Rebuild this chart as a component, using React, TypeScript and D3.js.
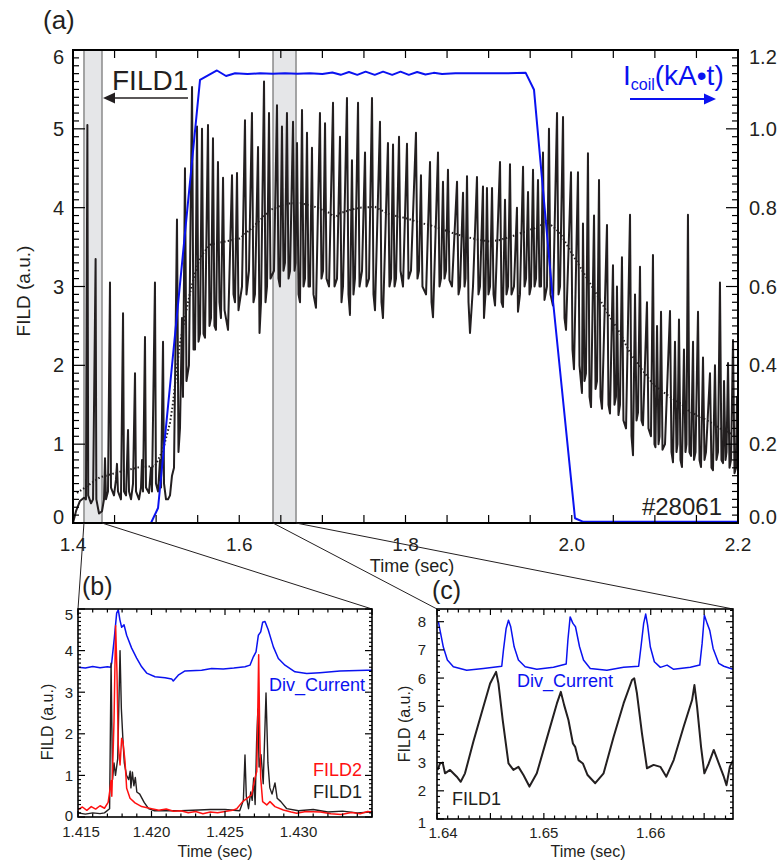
import React from 'react';
import * as d3 from 'd3';

const FONT = '"Liberation Sans", Arial, Helvetica, sans-serif';
const BLUE = '#0a12f0';
const RED = '#ff1010';
const INK = '#231f20';

// ---------- Panel (a): FILD1 signal (time [s], a.u.) ----------
const fild1A: [number, number][] = [
  [1.4000,0.00],[1.4036,0.15],[1.4084,0.28],[1.4132,0.32],[1.4156,0.30],[1.4173,5.05],[1.4183,0.35],[1.4217,0.25],[1.4241,0.30],[1.4272,3.35],[1.4281,0.30],[1.4313,0.12],[1.4349,0.15],[1.4373,0.30],[1.4385,0.82],[1.4397,0.30],[1.4421,0.40],[1.4445,3.05],[1.4457,0.45],[1.4493,0.35],[1.4517,0.55],[1.4529,0.75],[1.4541,0.40],[1.4577,0.30],[1.4602,2.66],[1.4614,0.40],[1.4638,0.35],[1.4662,1.18],[1.4674,0.40],[1.4698,0.30],[1.4722,0.50],[1.4746,1.90],[1.4758,0.40],[1.4794,0.30],[1.4818,0.45],[1.4830,0.80],[1.4842,0.40],[1.4866,2.36],[1.4878,0.45],[1.4914,0.38],[1.4938,0.70],[1.4950,0.40],[1.4986,3.05],[1.4998,0.50],[1.5023,0.40],[1.5047,0.80],[1.5059,0.45],[1.5083,2.30],[1.5095,0.50],[1.5119,0.30],[1.5143,0.30],[1.5167,0.35],[1.5191,0.60],[1.5215,0.70],[1.5251,3.85],[1.5269,0.90],[1.5287,1.20],[1.5311,2.60],[1.5323,1.60],[1.5347,4.50],[1.5365,1.80],[1.5395,2.00],[1.5432,5.53],[1.5450,2.20],[1.5468,2.20],[1.5492,5.03],[1.5510,2.30],[1.5528,2.40],[1.5552,5.00],[1.5570,2.40],[1.5588,2.35],[1.5624,5.05],[1.5642,2.50],[1.5660,2.60],[1.5684,4.88],[1.5702,2.50],[1.5720,2.45],[1.5744,4.58],[1.5762,2.80],[1.5780,2.60],[1.5805,4.38],[1.5823,2.70],[1.5865,2.45],[1.5913,4.41],[1.5931,2.90],[1.5949,2.80],[1.5973,4.44],[1.5991,2.70],[1.6033,3.00],[1.6069,5.11],[1.6087,2.90],[1.6117,3.20],[1.6153,5.20],[1.6171,2.80],[1.6189,2.90],[1.6226,4.77],[1.6244,2.41],[1.6262,2.80],[1.6298,5.60],[1.6316,2.80],[1.6334,3.00],[1.6358,5.20],[1.6376,3.10],[1.6418,3.20],[1.6454,5.30],[1.6472,3.10],[1.6490,3.00],[1.6514,5.03],[1.6532,3.20],[1.6550,3.30],[1.6574,5.20],[1.6593,3.10],[1.6611,3.20],[1.6647,5.09],[1.6665,3.20],[1.6677,3.30],[1.6695,4.82],[1.6713,2.90],[1.6731,2.80],[1.6755,5.24],[1.6773,3.00],[1.6791,3.10],[1.6815,4.95],[1.6833,3.00],[1.6851,3.00],[1.6875,4.76],[1.6893,2.90],[1.6923,2.73],[1.6971,5.20],[1.6989,3.10],[1.7008,3.20],[1.7032,5.07],[1.7050,3.10],[1.7080,3.00],[1.7128,5.33],[1.7146,3.00],[1.7176,3.10],[1.7212,4.90],[1.7230,2.80],[1.7248,3.00],[1.7296,5.39],[1.7314,2.90],[1.7332,2.64],[1.7356,4.60],[1.7374,2.90],[1.7392,3.10],[1.7429,5.33],[1.7447,3.00],[1.7477,3.20],[1.7513,4.70],[1.7531,3.00],[1.7561,3.10],[1.7597,5.39],[1.7615,2.90],[1.7633,2.70],[1.7693,5.09],[1.7711,2.80],[1.7729,2.60],[1.7789,4.82],[1.7807,3.00],[1.7826,3.10],[1.7850,4.80],[1.7868,3.00],[1.7886,3.10],[1.7922,4.90],[1.7940,3.20],[1.7970,3.00],[1.8018,4.81],[1.8036,3.10],[1.8066,3.20],[1.8126,4.95],[1.8144,3.10],[1.8162,3.20],[1.8186,4.41],[1.8204,3.00],[1.8247,2.90],[1.8295,4.58],[1.8313,2.80],[1.8331,2.61],[1.8391,4.70],[1.8409,3.00],[1.8427,3.10],[1.8451,4.33],[1.8469,3.10],[1.8487,3.20],[1.8511,4.48],[1.8529,3.08],[1.8559,3.00],[1.8620,4.33],[1.8638,2.90],[1.8656,3.00],[1.8692,4.19],[1.8710,3.00],[1.8722,3.10],[1.8740,4.40],[1.8758,2.80],[1.8776,2.41],[1.8812,3.00],[1.8860,4.39],[1.8878,2.90],[1.8896,3.00],[1.8932,4.27],[1.8944,2.60],[1.8962,2.90],[1.8980,4.25],[1.8998,2.90],[1.9017,3.00],[1.9041,4.25],[1.9059,2.90],[1.9077,2.76],[1.9137,4.58],[1.9155,2.80],[1.9173,2.74],[1.9197,4.10],[1.9215,2.90],[1.9233,3.00],[1.9257,4.55],[1.9275,2.90],[1.9305,3.00],[1.9341,4.00],[1.9353,2.68],[1.9377,2.90],[1.9414,4.52],[1.9432,3.00],[1.9450,3.10],[1.9474,4.20],[1.9492,2.90],[1.9510,3.00],[1.9534,4.48],[1.9552,3.00],[1.9570,3.10],[1.9594,4.35],[1.9612,3.00],[1.9630,3.00],[1.9654,4.70],[1.9672,2.83],[1.9702,3.00],[1.9726,5.00],[1.9744,2.90],[1.9774,2.76],[1.9823,5.20],[1.9841,2.90],[1.9859,3.00],[1.9895,5.15],[1.9913,2.60],[1.9931,2.45],[1.9991,4.45],[2.0009,2.20],[2.0027,1.95],[2.0075,4.45],[2.0093,2.00],[2.0123,1.65],[2.0135,3.80],[2.0153,1.80],[2.0171,1.90],[2.0195,4.69],[2.0214,1.60],[2.0232,1.47],[2.0268,3.90],[2.0286,1.70],[2.0304,1.80],[2.0328,4.35],[2.0346,1.60],[2.0364,1.45],[2.0424,3.78],[2.0442,1.50],[2.0460,1.39],[2.0496,3.27],[2.0514,1.50],[2.0532,1.60],[2.0544,3.00],[2.0562,1.37],[2.0580,1.50],[2.0604,3.37],[2.0622,1.30],[2.0653,1.20],[2.0701,3.91],[2.0719,1.10],[2.0737,0.86],[2.0761,2.90],[2.0779,1.30],[2.0797,1.40],[2.0821,3.25],[2.0839,1.30],[2.0857,1.24],[2.0905,2.80],[2.0923,1.20],[2.0953,1.10],[2.0977,3.40],[2.0995,1.00],[2.1007,0.96],[2.1026,2.50],[2.1044,1.00],[2.1056,1.10],[2.1074,2.68],[2.1092,0.93],[2.1122,1.00],[2.1182,2.69],[2.1200,0.90],[2.1218,0.77],[2.1242,2.30],[2.1260,0.90],[2.1272,1.00],[2.1290,2.58],[2.1308,0.80],[2.1326,0.71],[2.1350,2.20],[2.1368,0.90],[2.1380,1.00],[2.1398,3.91],[2.1416,0.90],[2.1435,0.85],[2.1459,2.30],[2.1471,0.80],[2.1489,0.90],[2.1519,2.68],[2.1537,0.80],[2.1555,0.71],[2.1579,2.10],[2.1597,0.80],[2.1615,0.90],[2.1663,1.90],[2.1681,0.70],[2.1699,0.67],[2.1723,2.00],[2.1741,0.80],[2.1759,0.90],[2.1783,3.05],[2.1801,0.80],[2.1820,0.76],[2.1832,1.80],[2.1850,0.80],[2.1862,0.90],[2.1880,2.03],[2.1898,0.70],[2.1916,0.80],[2.1940,2.32],[2.1958,0.63],[2.1976,0.70],[2.1988,1.60],[2.2000,1.00],
];

// smoothed FILD1 (dotted)
const fild1ASmooth: [number, number][] = [
  [1.4048,0.38],[1.4144,0.45],[1.4325,0.58],[1.4565,0.65],[1.4806,0.71],[1.4986,0.72],[1.5083,0.93],[1.5167,1.27],[1.5203,1.52],[1.5251,1.98],[1.5287,2.28],[1.5347,2.61],[1.5408,2.92],[1.5468,3.17],[1.5528,3.37],[1.5648,3.53],[1.5829,3.57],[1.6009,3.61],[1.6129,3.72],[1.6250,3.84],[1.6370,3.97],[1.6550,4.05],[1.6731,4.06],[1.6911,4.01],[1.7092,3.93],[1.7152,3.87],[1.7212,3.93],[1.7332,3.97],[1.7453,4.00],[1.7633,4.01],[1.7814,3.91],[1.7994,3.87],[1.8174,3.81],[1.8355,3.76],[1.8535,3.69],[1.8716,3.63],[1.8896,3.59],[1.9017,3.57],[1.9137,3.59],[1.9317,3.65],[1.9498,3.72],[1.9618,3.76],[1.9678,3.84],[1.9774,3.76],[1.9859,3.68],[1.9979,3.46],[2.0099,3.25],[2.0220,3.04],[2.0340,2.83],[2.0460,2.61],[2.0580,2.41],[2.0701,2.16],[2.0821,1.98],[2.0941,1.81],[2.1062,1.69],[2.1182,1.60],[2.1302,1.52],[2.1422,1.41],[2.1543,1.35],[2.1663,1.28],[2.1783,1.20],[2.1904,1.14],[2.1988,1.10],
];

// coil current (kA·t), right axis
const icoil: [number, number][] = [
  [1.4000,0],[1.4938,0],[1.5023,0.038],[1.5528,1.124],[1.5732,1.148],[1.5841,1.134],[1.5950,1.141],[1.6100,1.139],[1.6250,1.141],[1.6400,1.140],[1.6550,1.141],[1.6700,1.140],[1.6850,1.141],[1.7000,1.139],[1.7120,1.143],[1.7220,1.137],[1.7320,1.144],[1.7420,1.137],[1.7520,1.145],[1.7630,1.137],[1.7730,1.145],[1.7840,1.137],[1.7940,1.145],[1.8040,1.137],[1.8140,1.144],[1.8240,1.138],[1.8340,1.142],[1.8440,1.139],[1.8600,1.141],[1.8800,1.141],[1.9000,1.141],[1.9200,1.141],[1.9446,1.142],[1.9546,1.099],[1.9776,0.56],[2.0039,0.012],[2.0139,0.003],[2.2000,0.003],
];

const zoomBands: [number, number][] = [[1.4132, 1.4349], [1.6406, 1.6683]];
const aLeftTicks = [0, 1, 2, 3, 4, 5, 6];
const aRightTicks = ['0.0', '0.2', '0.4', '0.6', '0.8', '1.0', '1.2'];
const aXTicks = ['1.4', '1.6', '1.8', '2.0', '2.2'];

// ---------- Panel (b) ----------
const divCurB: [number, number][] = [
  [1.4150,3.60],[1.4155,3.58],[1.4160,3.62],[1.4165,3.59],[1.4170,3.61],[1.41722,3.60],[1.41729,3.70],[1.41747,4.30],[1.41763,4.90],[1.41774,4.98],[1.41785,4.74],[1.41797,4.56],[1.41813,4.62],[1.41831,4.37],[1.41865,4.06],[1.41899,3.82],[1.41933,3.61],[1.41967,3.46],[1.42024,3.37],[1.42092,3.35],[1.42137,3.32],[1.42148,3.27],[1.42182,3.41],[1.42228,3.51],[1.42341,3.53],[1.42409,3.57],[1.42488,3.56],[1.42560,3.58],[1.42636,3.61],[1.42670,3.65],[1.42693,3.85],[1.42711,3.97],[1.42727,4.37],[1.42743,4.45],[1.42756,4.68],[1.42772,4.70],[1.42794,4.50],[1.42829,4.09],[1.42863,3.81],[1.42908,3.65],[1.42976,3.49],[1.43056,3.45],[1.43146,3.47],[1.43282,3.51],[1.43464,3.53],[1.43500,3.53],
];
const fild2B: [number, number][] = [
  [1.4150,0.18],[1.4153,0.24],[1.4156,0.16],[1.4159,0.25],[1.4162,0.19],[1.4165,0.27],[1.4168,0.21],[1.41705,0.35],[1.41715,0.60],[1.41725,0.88],[1.41730,0.50],[1.41745,2.30],[1.41756,4.60],[1.41765,3.50],[1.41774,1.73],[1.41786,1.25],[1.41797,1.89],[1.41806,1.81],[1.41820,1.33],[1.41831,0.69],[1.41854,0.45],[1.41888,0.34],[1.41933,0.25],[1.42001,0.20],[1.4205,0.16],[1.4210,0.19],[1.4215,0.14],[1.4220,0.15],[1.4225,0.10],[1.4230,0.13],[1.4235,0.08],[1.4240,0.12],[1.4245,0.10],[1.4250,0.13],[1.4255,0.16],[1.4258,0.20],[1.42620,0.37],[1.42681,0.53],[1.42704,0.94],[1.42716,1.09],[1.42722,2.29],[1.42729,3.90],[1.42736,2.05],[1.42743,0.93],[1.42756,0.37],[1.42784,0.29],[1.42806,0.37],[1.42840,0.25],[1.42897,0.17],[1.42950,0.12],[1.42988,0.09],[1.4305,0.13],[1.4315,0.12],[1.4322,0.08],[1.4329,0.06],[1.4336,0.11],[1.4342,0.08],[1.4347,0.13],[1.4350,0.12],
];
const fild1B: [number, number][] = [
  [1.4150,0.10],[1.4155,0.07],[1.4160,0.10],[1.4165,0.08],[1.4168,0.10],[1.41715,0.20],[1.41725,3.70],[1.41735,0.90],[1.41745,1.30],[1.41755,1.00],[1.41770,1.40],[1.41786,4.00],[1.41795,2.60],[1.41805,1.90],[1.41815,1.30],[1.41830,1.00],[1.41845,0.90],[1.41855,1.10],[1.41860,0.70],[1.41870,1.08],[1.41880,0.75],[1.41890,0.95],[1.41900,0.60],[1.41920,0.55],[1.41950,0.35],[1.41980,0.20],[1.4202,0.15],[1.4220,0.15],[1.4240,0.18],[1.4250,0.18],[1.4260,0.15],[1.42625,0.40],[1.42636,1.49],[1.42645,0.50],[1.42660,0.20],[1.42675,0.60],[1.42685,0.40],[1.42695,0.94],[1.42705,0.30],[1.42715,1.80],[1.42724,2.60],[1.42732,1.20],[1.42745,1.50],[1.42760,0.80],[1.42779,2.98],[1.42792,1.30],[1.42805,0.70],[1.42820,0.55],[1.42840,0.82],[1.42855,0.45],[1.42880,0.37],[1.42920,0.20],[1.4300,0.15],[1.4310,0.18],[1.4320,0.12],[1.4330,0.14],[1.4340,0.10],[1.4350,0.12],
];
const bXTicks = ['1.415', '1.420', '1.425', '1.430'];
const bYTicks = [0, 1, 2, 3, 4, 5];

// ---------- Panel (c) ----------
const divCurC: [number, number][] = [
  [1.64013,8.00],[1.64028,7.70],[1.64059,7.10],[1.64097,6.64],[1.64153,6.40],[1.64278,6.28],[1.64434,6.34],[1.64606,6.42],[1.64622,7.00],[1.64647,7.76],[1.64669,8.05],[1.64690,7.82],[1.64722,7.11],[1.64762,6.64],[1.64825,6.40],[1.64934,6.31],[1.65090,6.38],[1.65209,6.50],[1.65225,7.35],[1.65246,8.17],[1.65272,7.94],[1.65296,7.82],[1.65334,7.11],[1.65371,6.64],[1.65434,6.34],[1.65590,6.28],[1.65746,6.38],[1.65887,6.42],[1.65909,7.11],[1.65934,7.94],[1.65953,8.27],[1.65971,7.88],[1.65996,7.11],[1.66034,6.58],[1.66090,6.38],[1.66153,6.46],[1.66215,6.31],[1.66371,6.38],[1.66459,6.46],[1.66481,7.23],[1.66502,8.23],[1.66528,7.94],[1.66552,7.70],[1.66584,7.05],[1.66637,6.52],[1.66684,6.42],[1.66770,6.31],
];
const fild1C: [number, number][] = [
  [1.64006,2.74],[1.64028,2.97],[1.64053,3.00],[1.64075,2.62],[1.64122,2.74],[1.64185,2.50],[1.64222,2.32],[1.64262,2.62],[1.64340,3.74],[1.64434,4.98],[1.64497,5.81],[1.64553,6.22],[1.64575,5.81],[1.64615,4.51],[1.64669,2.97],[1.64715,2.74],[1.64762,2.85],[1.64809,2.56],[1.64865,2.15],[1.64934,2.62],[1.65028,3.86],[1.65122,5.10],[1.65159,5.51],[1.65190,5.04],[1.65230,4.51],[1.65272,3.68],[1.65293,3.56],[1.65324,3.09],[1.65365,2.97],[1.65409,2.56],[1.65481,2.27],[1.65559,2.62],[1.65653,3.92],[1.65746,5.10],[1.65825,5.93],[1.65846,5.99],[1.65871,5.46],[1.65918,4.04],[1.65965,2.80],[1.66027,2.92],[1.66090,2.85],[1.66146,2.50],[1.66215,3.09],[1.66308,4.27],[1.66387,5.22],[1.66409,5.75],[1.66434,4.98],[1.66471,3.56],[1.66502,2.62],[1.66543,2.97],[1.66590,3.45],[1.66637,2.97],[1.66684,2.50],[1.66709,2.20],[1.66740,2.85],[1.66771,3.09],
];
const cXTicks = ['1.64', '1.65', '1.66'];
const cYTicks = [1, 2, 3, 4, 5, 6, 7, 8];

// ---------- layout ----------
const A = { l: 73, r: 738, t: 50, b: 523 };
const B = { l: 78, r: 372, t: 609, b: 817 };
const C = { l: 437, r: 733, t: 609, b: 819 };

const xA = d3.scaleLinear().domain([1.4, 2.2]).range([A.l, A.r]);
const yA = d3.scaleLinear().domain([0, 6]).range([A.b, A.t]);
const yA2 = d3.scaleLinear().domain([0, 1.2]).range([A.b, A.t]);
const xB = d3.scaleLinear().domain([1.415, 1.435]).range([B.l, B.r]);
const yB = d3.scaleLinear().domain([0, 5]).range([B.b, B.t]);
const xC = d3.scaleLinear().domain([1.64, 1.6677]).range([C.l, C.r]);
const yC = d3.scaleLinear().domain([1, 8.45]).range([C.b, C.t]);

const mkLine = (x: any, y: any) =>
  d3.line<[number, number]>().x((d) => x(d[0])).y((d) => y(d[1]));

const steps = (a: number, b: number, s: number) =>
  d3.range(Math.round((b - a) / s) + 1).map((i) => +(a + i * s).toFixed(6)).filter((v) => v <= b + 1e-9);

const isMult = (v: number, m: number) => Math.abs(v / m - Math.round(v / m)) < 1e-6;

function XTickMarks({ x, values, y0, y1, len, majorEvery, majorLen }: any) {
  return (
    <g stroke="#000" strokeWidth={1.2}>
      {values.map((v: number, i: number) => {
        const L = majorEvery && isMult(v, majorEvery) ? majorLen : len;
        const px = x(v);
        return (
          <g key={i}>
            <line x1={px} x2={px} y1={y0} y2={y0 - L} />
            <line x1={px} x2={px} y1={y1} y2={y1 + L} />
          </g>
        );
      })}
    </g>
  );
}

function YTickMarks({ y, values, xl, xr, len, majorEvery, majorLen, left = true, right = true }: any) {
  return (
    <g stroke="#000" strokeWidth={1.2}>
      {values.map((v: number, i: number) => {
        const L = isMult(v, majorEvery) ? majorLen : len;
        const py = y(v);
        return (
          <g key={i}>
            {left && <line x1={xl} x2={xl + L} y1={py} y2={py} />}
            {right && <line x1={xr} x2={xr - L} y1={py} y2={py} />}
          </g>
        );
      })}
    </g>
  );
}

export default function App() {
  const lA = mkLine(xA, yA);
  const lA2 = mkLine(xA, yA2);
  const lB = mkLine(xB, yB);
  const lC = mkLine(xC, yC);

  const txt = { fontFamily: FONT, fill: '#231f20' } as any;

  return (
    <svg
      width={782}
      height={865}
      viewBox="0 0 782 865"
      style={{ position: 'absolute', left: 0, top: 0, background: '#fff' }}
    >
      <defs>
        <clipPath id="clipA"><rect x={A.l} y={A.t} width={A.r - A.l} height={A.b - A.t} /></clipPath>
        <clipPath id="clipB"><rect x={B.l} y={B.t} width={B.r - B.l} height={B.b - B.t} /></clipPath>
        <clipPath id="clipC"><rect x={C.l} y={C.t} width={C.r - C.l} height={C.b - C.t} /></clipPath>
      </defs>
      <rect x={0} y={0} width={782} height={865} fill="#fff" />

      {/* ================= Panel (a) ================= */}
      <text x={43} y={29} fontSize={26} {...txt}>(a)</text>
      {zoomBands.map((b, i) => (
        <rect key={i} x={xA(b[0])} y={A.t} width={xA(b[1]) - xA(b[0])} height={A.b - A.t}
          fill="#e5e6e8" stroke="#7a7a7a" strokeWidth={1.3} />
      ))}
      <g clipPath="url(#clipA)">
        <path d={lA(fild1A) || ''} fill="none" stroke={INK} strokeWidth={2} strokeLinejoin="round" />
        <path d={lA(fild1ASmooth) || ''} fill="none" stroke={INK} strokeWidth={2} strokeDasharray="1.5 2.2" />
        <path d={lA2(icoil) || ''} fill="none" stroke={BLUE} strokeWidth={2} strokeLinejoin="round" />
      </g>
      <rect x={A.l} y={A.t} width={A.r - A.l} height={A.b - A.t} fill="none" stroke="#000" strokeWidth={2} />
      <XTickMarks x={xA} values={steps(1.4, 2.2, 0.05)} y0={A.b} y1={A.t} len={8} />
      <YTickMarks y={yA} values={steps(0, 6, 0.1)} xl={A.l} xr={A.r} len={6} majorEvery={1} majorLen={12} right={false} />
      <YTickMarks y={yA2} values={steps(0, 1.2, 0.02)} xl={A.l} xr={A.r} len={6} majorEvery={0.2} majorLen={12} left={false} />
      {aLeftTicks.map((v, i) => {
        const dy = v === 0 ? -6 : v === 6 ? 7 : 0;
        return <text key={i} x={64} y={yA(v) + dy + 7} fontSize={20} textAnchor="end" {...txt}>{v}</text>;
      })}
      {aRightTicks.map((s, i) => {
        const v = +s;
        const dy = i === 0 ? -6 : i === aRightTicks.length - 1 ? 7 : 0;
        return <text key={i} x={749} y={yA2(v) + dy + 7} fontSize={20} {...txt}>{s}</text>;
      })}
      {aXTicks.map((s, i) => (
        <text key={i} x={xA(+s)} y={551} fontSize={19} textAnchor="middle" {...txt}>{s}</text>
      ))}
      <text x={412} y={571.5} fontSize={18} textAnchor="middle" {...txt}>Time (sec)</text>
      <text transform="translate(30,291) rotate(-90)" fontSize={19} textAnchor="middle" {...txt}>FILD (a.u.)</text>

      {/* FILD1 arrow label */}
      <text x={112} y={90} fontSize={28} {...txt}>FILD1</text>
      <line x1={188} x2={112} y1={98} y2={98} stroke="#231f20" strokeWidth={1.5} />
      <path d="M103,98 L115,92.5 L115,103.5 Z" fill="#231f20" />

      {/* Icoil label */}
      <text x={623} y={85} fontSize={28} fill={BLUE} fontFamily={FONT}>
        I<tspan fontSize={16} dy={5}>coil</tspan><tspan dy={-5}>(kA•t)</tspan>
      </text>
      <line x1={630} x2={706} y1={99} y2={99} stroke={BLUE} strokeWidth={2} />
      <path d="M716,99 L704,93.5 L704,104.5 Z" fill={BLUE} />

      <text x={722} y={515} fontSize={24} textAnchor="end" {...txt}>#28061</text>

      {/* zoom connectors */}
      <g stroke="#231f20" strokeWidth={1}>
        <line x1={xA(zoomBands[0][0])} y1={A.b} x2={B.l} y2={B.t} />
        <line x1={xA(zoomBands[0][1])} y1={A.b} x2={B.r} y2={B.t} />
        <line x1={xA(zoomBands[1][0])} y1={A.b} x2={C.l} y2={C.t} />
        <line x1={xA(zoomBands[1][1])} y1={A.b} x2={C.r} y2={C.t} />
      </g>

      {/* ================= Panel (b) ================= */}
      <text x={82} y={595} fontSize={25} {...txt}>(b)</text>
      <g clipPath="url(#clipB)">
        <path d={lB(divCurB) || ''} fill="none" stroke={BLUE} strokeWidth={1.5} strokeLinejoin="round" />
        <path d={lB(fild1B) || ''} fill="none" stroke={INK} strokeWidth={1.4} strokeLinejoin="round" />
        <path d={lB(fild2B) || ''} fill="none" stroke={RED} strokeWidth={1.5} strokeLinejoin="round" />
      </g>
      <rect x={B.l} y={B.t} width={B.r - B.l} height={B.b - B.t} fill="none" stroke="#000" strokeWidth={1.6} />
      <XTickMarks x={xB} values={steps(1.415, 1.435, 0.001)} y0={B.b} y1={B.t} len={3.5} majorEvery={0.005} majorLen={6} />
      <YTickMarks y={yB} values={steps(0, 5, 0.1)} xl={B.l} xr={B.r} len={3} majorEvery={1} majorLen={7} />
      {bYTicks.map((v, i) => {
        const dy = v === 5 ? 5 : v === 0 ? -2 : 0;
        return <text key={i} x={73} y={yB(v) + dy + 5.5} fontSize={15} textAnchor="end" {...txt}>{v}</text>;
      })}
      {bXTicks.map((s, i) => (
        <text key={i} x={xB(+s) + (i === 0 ? 3 : 0)} y={837} fontSize={15} textAnchor="middle" {...txt}>{s}</text>
      ))}
      <text x={215} y={857} fontSize={16} textAnchor="middle" {...txt}>Time (sec)</text>
      <text transform="translate(53,722) rotate(-90)" fontSize={16} textAnchor="middle" {...txt}>FILD (a.u.)</text>
      <text x={365} y={691} fontSize={18} textAnchor="end" fill={BLUE} fontFamily={FONT}>Div_Current</text>
      <text x={362} y={776} fontSize={18} textAnchor="end" fill={RED} fontFamily={FONT}>FILD2</text>
      <text x={362} y={798} fontSize={18} textAnchor="end" {...txt}>FILD1</text>

      {/* ================= Panel (c) ================= */}
      <text x={432} y={599} fontSize={25} {...txt}>(c)</text>
      <g clipPath="url(#clipC)">
        <path d={lC(divCurC) || ''} fill="none" stroke={BLUE} strokeWidth={1.5} strokeLinejoin="round" />
        <path d={lC(fild1C) || ''} fill="none" stroke={INK} strokeWidth={2} strokeLinejoin="round" />
      </g>
      <rect x={C.l} y={C.t} width={C.r - C.l} height={C.b - C.t} fill="none" stroke="#000" strokeWidth={1.6} />
      <XTickMarks x={xC} values={steps(1.64, 1.6677, 0.001)} y0={C.b} y1={C.t} len={3.5} majorEvery={0.005} majorLen={6} />
      <YTickMarks y={yC} values={steps(1, 8.4, 0.2)} xl={C.l} xr={C.r} len={3} majorEvery={1} majorLen={7} />
      {cYTicks.map((v, i) => {
        const dy = v === 1 ? 3 : 0;
        return <text key={i} x={426} y={yC(v) + dy + 5.5} fontSize={15} textAnchor="end" {...txt}>{v}</text>;
      })}
      {cXTicks.map((s, i) => (
        <text key={i} x={xC(+s) + (i === 0 ? 6 : 0)} y={838} fontSize={15} textAnchor="middle" {...txt}>{s}</text>
      ))}
      <text x={588} y={857} fontSize={16} textAnchor="middle" {...txt}>Time (sec)</text>
      <text transform="translate(410,724) rotate(-90)" fontSize={16} textAnchor="middle" {...txt}>FILD (a.u.)</text>
      <text x={517} y={687} fontSize={18} fill={BLUE} fontFamily={FONT}>Div_Current</text>
      <text x={452} y={805} fontSize={18} {...txt}>FILD1</text>
    </svg>
  );
}
